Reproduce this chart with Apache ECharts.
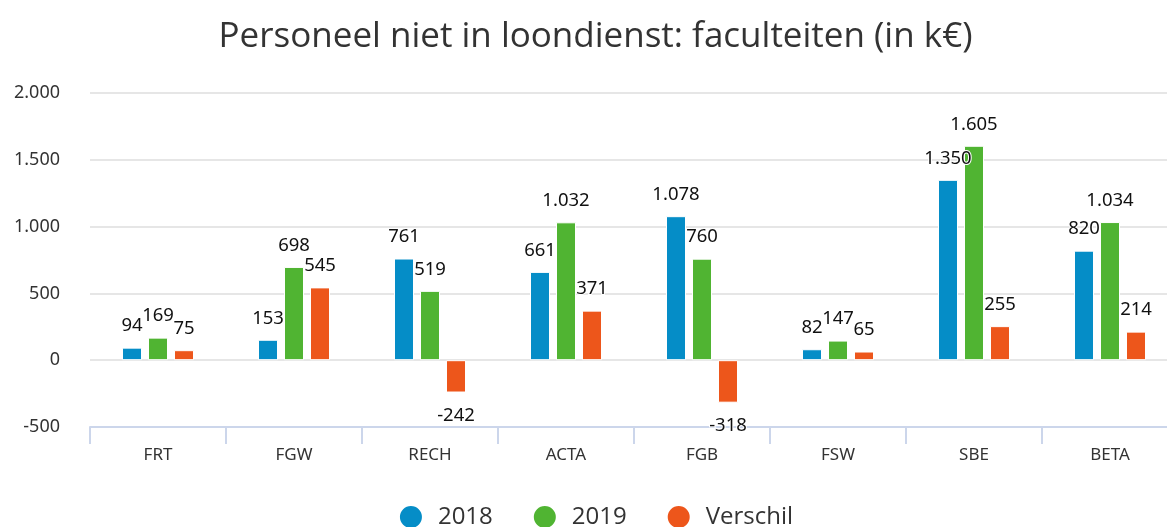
<!DOCTYPE html>
<html><head><meta charset="utf-8">
<script src="https://cdn.jsdelivr.net/npm/echarts@6/dist/echarts.min.js"></script>
<style>html,body{margin:0;padding:0;background:#fff;overflow:hidden}#c{width:1191px;height:527px}</style>
</head><body><div id="c"></div>
<script>
var categories = ['FRT','FGW','RECH','ACTA','FGB','FSW','SBE','BETA'];
var v2018 = [94,153,761,661,1078,82,1350,820];
var v2019 = [169,698,519,1032,760,147,1605,1034];
var verschil = [75,545,-242,371,-318,65,255,214];
var yTicks = [-500,0,500,1000,1500,2000];
var seriesNames = ['2018','2019','Verschil'];
var colors = ['#058DC7','#50B432','#ED561B'];

function fmt(v){ return String(v).replace(/\B(?=(\d{3})+(?!\d))/g,'.'); }
var labelFont = '"Noto Sans", sans-serif';
var titleFont = '"Open Sans", sans-serif';
function mkSeries(name, data, color){
  return {
    name: name, type: 'bar', barWidth: 20, barGap: '30%',
    data: data.map(function(v){
      return v < 0 ? {value: v, label: {position: 'bottom', distance: 14}} : v;
    }),
    itemStyle: {color: color, borderColor: '#fff', borderWidth: 1},
    label: {show: true, position: 'top', distance: 12, fontSize: 18.5, color: '#111',
      fontFamily: labelFont, textBorderColor: '#fff', textBorderWidth: 2,
      formatter: function(p){ return fmt(p.value); }}
  };
}
var chart = echarts.init(document.getElementById('c'));
chart.setOption({
  animation: false,
  color: colors,
  title: {text: 'Personeel niet in loondienst: faculteiten (in k€)', left: 'center', top: 15,
    textStyle: {fontSize: 35, fontWeight: 'normal', color: '#333', fontFamily: titleFont}},
  legend: {top: 499, itemGap: 39, icon: 'circle', itemWidth: 24, itemHeight: 24,
    data: seriesNames,
    textStyle: {fontSize: 24, color: '#333', fontFamily: titleFont, padding: [0,0,0,10]}},
  grid: {left: 90, right: 13, top: 93, bottom: 100, containLabel: false},
  xAxis: {type: 'category', data: categories,
    axisLine: {onZero: false, lineStyle: {color: '#ccd6eb', width: 2}},
    axisTick: {show: true, length: 17, lineStyle: {color: '#ccd6eb', width: 2}},
    axisLabel: {fontSize: 17, color: '#333', margin: 20, fontFamily: labelFont}},
  yAxis: {type: 'value', min: yTicks[0], max: yTicks[yTicks.length-1], interval: 500,
    axisLine: {show: false}, axisTick: {show: false},
    splitLine: {lineStyle: {color: '#e6e6e6', width: 2}},
    axisLabel: {fontSize: 18, color: '#333', margin: 30, fontFamily: labelFont,
      formatter: function(v){ return fmt(v); }}},
  series: [
    mkSeries(seriesNames[0], v2018, colors[0]),
    mkSeries(seriesNames[1], v2019, colors[1]),
    mkSeries(seriesNames[2], verschil, colors[2])
  ]
});
</script></body></html>
